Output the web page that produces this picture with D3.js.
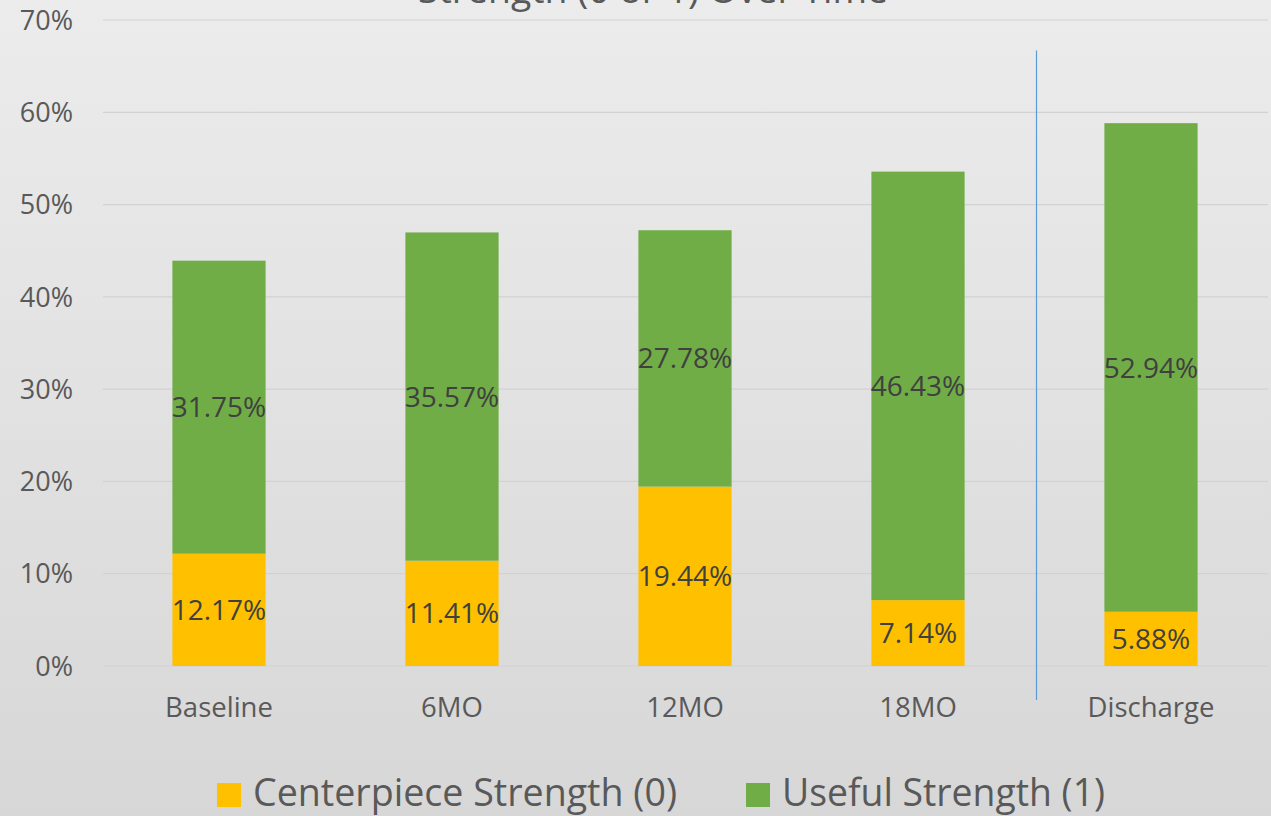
<!DOCTYPE html>
<html><head><meta charset="utf-8">
<script src="https://cdn.jsdelivr.net/npm/d3@7"></script>
<style>html,body{margin:0;padding:0;overflow:hidden;}svg{display:block;}</style>
</head><body>
<script>
const categories = ["Baseline", "6MO", "12MO", "18MO", "Discharge"];
const centerpiece = [12.17, 11.41, 19.44, 7.14, 5.88];
const useful = [31.75, 35.57, 27.78, 46.43, 52.94];
const seriesNames = ["Centerpiece Strength (0)", "Useful Strength (1)"];
const yTicks = [0, 10, 20, 30, 40, 50, 60, 70];
const title = "Strength (0 or 1) Over Time";

const W = 1271, H = 816;
const colors = ["#FFC000", "#70AD47"];
const font = "'Open Sans', sans-serif";

const svg = d3.select("body").append("svg").attr("width", W).attr("height", H);
const defs = svg.append("defs");
const grad = defs.append("linearGradient").attr("id", "bg").attr("x1", 0).attr("y1", 0).attr("x2", 0).attr("y2", 1);
grad.append("stop").attr("offset", "0%").attr("stop-color", "#ececec");
grad.append("stop").attr("offset", "100%").attr("stop-color", "#d7d7d7");
svg.append("rect").attr("width", W).attr("height", H).attr("fill", "url(#bg)");

const x = d3.scaleBand().domain(categories).range([102.5, 1267.5]).paddingInner(0.6).paddingOuter(0.3);
const y = d3.scaleLinear().domain([0, 70]).range([666, 20]);

// gridlines
svg.append("g").selectAll("line").data(yTicks).join("line")
  .attr("x1", 103).attr("x2", 1268)
  .attr("y1", d => y(d)).attr("y2", d => y(d))
  .attr("stroke", "#d2d2d2").attr("stroke-width", 1.2);

// y labels
svg.append("g").selectAll("text").data(yTicks).join("text")
  .attr("x", 73).attr("y", d => y(d)).attr("dy", "0.36em")
  .attr("text-anchor", "end").attr("font-family", font).attr("font-size", 27)
  .attr("fill", "#595959").text(d => d + "%");

// stacked data
const rows = categories.map((c, i) => ({cat: c, c0: centerpiece[i], c1: useful[i]}));
const stack = d3.stack().keys(["c0", "c1"])(rows);

const gBars = svg.append("g");
stack.forEach((layer, li) => {
  gBars.append("g").selectAll("rect").data(layer).join("rect")
    .attr("x", d => x(d.data.cat)).attr("width", x.bandwidth())
    .attr("y", d => y(d[1])).attr("height", d => y(d[0]) - y(d[1]))
    .attr("fill", colors[li]);
});
stack.forEach((layer, li) => {
  gBars.append("g").selectAll("text").data(layer).join("text")
    .attr("x", d => x(d.data.cat) + x.bandwidth() / 2)
    .attr("y", d => y((d[0] + d[1]) / 2)).attr("dy", "0.36em")
    .attr("text-anchor", "middle").attr("font-family", font).attr("font-size", 28)
    .attr("fill", "#404040").text(d => (d[1] - d[0]).toFixed(2) + "%");
});

// separator line between 18MO and Discharge
const sepX = Math.round(x("Discharge") - x.step() * x.paddingInner() / 2) + 1.5;
svg.append("line").attr("x1", sepX).attr("x2", sepX)
  .attr("y1", y(66.7)).attr("y2", y(0) + 34)
  .attr("stroke", "#5b9bd5").attr("stroke-width", 1.2);

// category labels
svg.append("g").selectAll("text").data(categories).join("text")
  .attr("x", d => x(d) + x.bandwidth() / 2).attr("y", 717)
  .attr("text-anchor", "middle").attr("font-family", font).attr("font-size", 27.5)
  .attr("fill", "#595959").text(d => d);

// title (cut off at top, as in the original)
svg.append("text").attr("x", 653).attr("y", 3)
  .attr("text-anchor", "middle").attr("font-family", font).attr("font-size", 37)
  .attr("fill", "#595959").attr("textLength", 470).attr("lengthAdjust", "spacingAndGlyphs")
  .text(title);

// legend
const legX = [217, 746], legTextLen = [424, 323];
const leg = svg.append("g");
seriesNames.forEach((n, i) => {
  leg.append("rect").attr("x", legX[i]).attr("y", 783).attr("width", 24).attr("height", 24).attr("fill", colors[i]);
  leg.append("text").attr("x", legX[i] + 36).attr("y", 806)
    .attr("font-family", font).attr("font-size", 38).attr("fill", "#595959")
    .attr("textLength", legTextLen[i]).attr("lengthAdjust", "spacingAndGlyphs")
    .text(n);
});
</script>
</body></html>
